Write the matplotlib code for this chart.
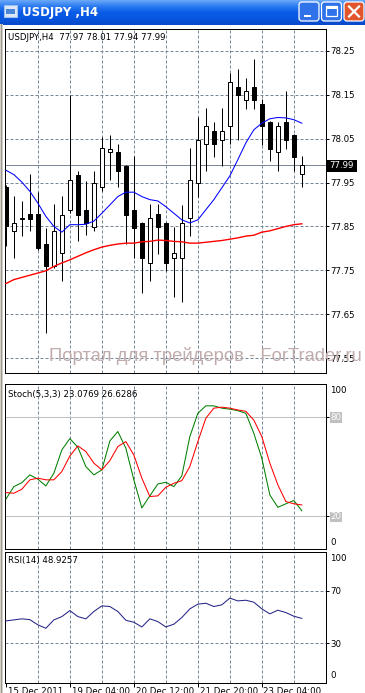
import matplotlib
matplotlib.use('Agg')
import matplotlib.pyplot as plt
from matplotlib.colors import LinearSegmentedColormap
from matplotlib.patches import Rectangle, FancyBboxPatch
import numpy as np

W, H = 365, 693

# USDJPY H4 bars
opens = [77.940, 77.839, 77.868, 77.878, 77.878, 77.810, 77.759, 77.789, 77.888, 77.968,
         77.888, 77.848, 77.939, 78.019, 78.020, 77.988, 77.888, 77.858, 77.767, 77.878,
         77.858, 77.778, 77.778, 77.869, 77.949, 78.038, 78.068, 78.047, 78.078, 78.167,
         78.137, 78.167, 78.129, 78.088, 78.019, 78.088, 78.057, 77.970]
highs = [77.945, 77.919, 77.907, 77.970, 77.928, 77.846, 77.900, 77.919, 78.150, 77.977,
         77.954, 77.977, 78.053, 78.057, 78.038, 77.990, 78.010, 77.860, 77.900, 77.900,
         77.860, 77.848, 77.898, 78.029, 78.098, 78.120, 78.088, 78.120, 78.199, 78.209,
         78.188, 78.230, 78.139, 78.090, 78.088, 78.159, 78.060, 78.010]
lows = [77.805, 77.778, 77.828, 77.839, 77.797, 77.607, 77.755, 77.725, 77.880, 77.816,
        77.830, 77.839, 77.930, 77.956, 77.939, 77.809, 77.778, 77.699, 77.725, 77.787,
        77.748, 77.689, 77.678, 77.828, 77.916, 77.977, 78.007, 77.987, 78.038, 78.047,
        78.118, 78.118, 78.036, 77.998, 77.977, 78.027, 77.977, 77.940]
closes = [77.850, 77.858, 77.870, 77.868, 77.800, 77.759, 77.839, 77.877, 77.956, 77.877,
          77.858, 77.949, 78.029, 78.027, 77.977, 77.877, 77.846, 77.778, 77.869, 77.848,
          77.767, 77.789, 77.858, 77.956, 78.047, 78.078, 78.038, 78.068, 78.179, 78.149,
          78.158, 78.137, 78.078, 78.027, 78.078, 78.047, 78.007, 77.990]

ma_blue = [77.978, 77.968, 77.951, 77.930, 77.903, 77.873, 77.850, 77.837, 77.854, 77.854,
           77.855, 77.862, 77.880, 77.899, 77.918, 77.928, 77.928, 77.918, 77.911, 77.908,
           77.895, 77.880, 77.865, 77.858, 77.865, 77.888, 77.911, 77.938, 77.965, 78.002,
           78.040, 78.070, 78.085, 78.095, 78.098, 78.097, 78.093, 78.085]
ma_red = [77.720, 77.729, 77.734, 77.739, 77.744, 77.749, 77.759, 77.767, 77.774, 77.782,
          77.790, 77.797, 77.803, 77.807, 77.810, 77.812, 77.812, 77.815, 77.816, 77.819,
          77.818, 77.816, 77.815, 77.812, 77.812, 77.814, 77.816, 77.818, 77.821, 77.824,
          77.828, 77.830, 77.837, 77.840, 77.845, 77.850, 77.854, 77.856]

stoch_main = [30.1, 37.7, 40.1, 44.8, 42.2, 38.1, 45.8, 59.9, 66.7, 61.5,
              49.8, 44.8, 47.8, 65.3, 71.0, 60.9, 41.8, 24.8, 32.1, 39.3,
              40.3, 37.7, 44.2, 67.9, 82.0, 86.5, 86.5, 85.1, 84.5, 83.6,
              82.0, 69.9, 54.8, 32.7, 25.2, 27.3, 29.3, 23.08]
stoch_signal = [34.1, 33.7, 36.1, 41.8, 42.8, 41.8, 41.8, 46.8, 56.2, 62.3,
                58.9, 51.9, 47.8, 53.4, 61.9, 64.9, 56.8, 42.8, 31.7, 32.1,
                37.3, 39.7, 41.3, 49.8, 64.9, 79.0, 85.1, 85.7, 85.1, 84.0,
                83.2, 77.9, 67.9, 51.9, 38.8, 28.7, 27.3, 26.63]

rsi = [47.0, 47.8, 48.6, 48.0, 44.0, 41.4, 47.8, 50.3, 54.9, 50.3,
       48.6, 54.2, 58.5, 58.0, 54.2, 47.5, 46.0, 42.4, 48.6, 46.5,
       42.4, 44.5, 49.6, 56.2, 59.8, 60.5, 58.0, 59.3, 64.4, 62.3,
       62.8, 61.3, 56.2, 52.4, 55.2, 53.4, 50.6, 48.93]

price_ticks = [77.55, 77.65, 77.75, 77.85, 77.95, 78.05, 78.15, 78.25]
date_labels = ['15 Dec 2011', '19 Dec 04:00', '20 Dec 12:00', '21 Dec 20:00', '23 Dec 04:00']
date_bars = [0, 8, 16, 24, 32]
grid_bars = [4, 8, 12, 16, 20, 24, 28, 32, 36]
bid = 77.99

plt.rcParams['font.family'] = ['DejaVu Sans']
fig = plt.figure(figsize=(W / 100, H / 100), dpi=100)
fig.patch.set_facecolor('white')

grid_col = '#778899'
dash = (0, (3, 2))
fs = 6.2


def box(x0, y0, x1, y1):
    return fig.add_axes([x0 / W, 1 - y1 / H, (x1 - x0) / W, (y1 - y0) / H])


def ftext(x, y, s, **kw):
    return fig.text(x / W, 1 - y / H, s, **kw)


def panel(ax):
    ax.set_xlim(-0.17, 39.96)
    for sp in ax.spines.values():
        sp.set_color('black')
        sp.set_linewidth(0.72)
    for k in grid_bars:
        ax.axvline(k, color=grid_col, lw=0.72, ls=dash, zorder=1)
    ax.set_xticks([])
    ax.yaxis.tick_right()
    ax.tick_params(axis='y', length=2.2, width=0.72, pad=1.4, labelsize=fs)


# window frame and title bar
fig.patches.append(Rectangle((0, 0), 3 / W, 1 - 24 / H, transform=fig.transFigure,
                             facecolor='#d4d0c8', edgecolor='none'))
fig.patches.append(Rectangle((1 / W, 0), 1 / W, 1 - 24 / H, transform=fig.transFigure,
                             facecolor='#9a9890', edgecolor='none'))

axt = box(0, 0, W, 25)
axt.set_xlim(0, W)
axt.set_ylim(25, 0)
axt.axis('off')
cm = LinearSegmentedColormap.from_list('xp', ['#6aa8f8', '#2a7af2', '#0a5ce6', '#0856e0', '#0848c8'])
axt.imshow(np.linspace(0, 1, 50).reshape(-1, 1), cmap=cm, aspect='auto', extent=[0, W, 25, 0])
axt.add_patch(Rectangle((4, 5), 13, 12, facecolor='#dce8f8', edgecolor='#9cc0f0', lw=0.8))
axt.add_patch(Rectangle((6, 9), 9, 5, facecolor='#4a86d8', edgecolor='none'))
axt.text(22, 12.5, 'USDJPY ,H4', color='white', fontweight='bold', fontsize=8.5, va='center')
for x0, fc in [(299, '#2f72ea'), (321.5, '#2f72ea'), (344, '#e0552c')]:
    axt.add_patch(FancyBboxPatch((x0, 2), 20, 19, boxstyle='round,pad=0,rounding_size=3',
                                 facecolor=fc, edgecolor='white', lw=0.9))
axt.add_patch(Rectangle((304, 14.5), 7, 2.5, facecolor='white', edgecolor='none'))
axt.add_patch(Rectangle((326, 6), 11, 10, fill=False, edgecolor='white', lw=0.9))
axt.add_patch(Rectangle((326, 6), 11, 2.5, facecolor='white', edgecolor='none'))
axt.plot([349, 359], [6.5, 16.5], color='white', lw=1.6)
axt.plot([349, 359], [16.5, 6.5], color='white', lw=1.6)

# price panel
ax1 = box(4.5, 28.5, 325.5, 372.5)
panel(ax1)
ax1.set_ylim(77.5176, 78.3005)
for p in price_ticks:
    ax1.axhline(p, color=grid_col, lw=0.72, ls=dash, zorder=1)
ax1.axhline(bid, color='#7b8794', lw=0.72, zorder=2)
ax1.set_yticks(price_ticks)
ax1.set_yticklabels(['%.2f' % p for p in price_ticks])

idx = np.arange(len(opens))
o = np.array(opens)
c = np.array(closes)
ax1.vlines(idx, lows, highs, color='black', lw=0.72, zorder=3)
ax1.bar(idx, np.maximum(np.abs(c - o), 0.002), bottom=np.minimum(o, c), width=0.5,
        color=np.where(c >= o, 'white', 'black'), edgecolor='black', lw=0.72, zorder=4)
ax1.plot(idx, ma_blue, color='#0000ff', lw=0.75, zorder=5)
ax1.plot(idx, ma_red, color='#ff0000', lw=1.0, zorder=5)

ftext(8.3, 37, 'USDJPY,H4  77.97 78.01 77.94 77.99', fontsize=fs, va='center')
fig.patches.append(Rectangle((327 / W, 1 - 172 / H), 30 / W, 12 / H, transform=fig.transFigure,
                             facecolor='black', edgecolor='none'))
ftext(329, 166, '%.2f' % bid, fontsize=fs, color='white', va='center')

# stochastic panel
ax2 = box(4.5, 383.5, 325.5, 549)
panel(ax2)
ax2.set_ylim(0, 100)
ax2.axhline(80, color='#c0c0c0', lw=0.72, zorder=1)
ax2.axhline(20, color='#c0c0c0', lw=0.72, zorder=1)
ax2.plot(idx, stoch_main, color='#008000', lw=0.75, zorder=3)
ax2.plot(idx, stoch_signal, color='#ff0000', lw=0.75, zorder=3)
ax2.set_yticks([80, 20])
ax2.set_yticklabels(['80', '20'], color='white')
for lbl in ax2.get_yticklabels():
    lbl.set_bbox(dict(facecolor='#c0c0c0', edgecolor='none', pad=0.6))
ftext(330, 390.7, '100', fontsize=fs, va='center')
ftext(330, 542.7, '0', fontsize=fs, va='center')
ftext(8.3, 394, 'Stoch(5,3,3) 23.0769 26.6286', fontsize=fs, va='center')

# RSI panel
ax3 = box(4.5, 551.5, 325.5, 682.5)
panel(ax3)
ax3.set_ylim(0, 100)
ax3.axhline(70, color=grid_col, lw=0.72, ls=dash, zorder=1)
ax3.axhline(30, color=grid_col, lw=0.72, ls=dash, zorder=1)
ax3.plot(idx, rsi, color='#25258a', lw=0.75, zorder=3)
ax3.set_yticks([70, 30])
ax3.set_yticklabels(['70', '30'])
ftext(330, 558.3, '100', fontsize=fs, va='center')
ftext(330, 676, '0', fontsize=fs, va='center')
ftext(8.3, 561, 'RSI(14) 48.9257', fontsize=fs, va='center')
ax3.set_xticks(date_bars)
ax3.tick_params(axis='x', length=3, width=0.72, direction='out', labelbottom=False)
for k, s in zip(date_bars, date_labels):
    ax3.annotate(s, xy=(k, 0), xycoords=('data', 'axes fraction'), xytext=(1.2, -3.6),
                 textcoords='offset points', ha='left', va='top', fontsize=fs,
                 annotation_clip=False)

# watermark
ftext(49, 356, 'Портал для трейдеров - ForTrader.ru', fontsize=13.2, color='#c0acac',
      family='Liberation Sans', va='center', zorder=10)

fig.savefig('out.png', dpi=100)
